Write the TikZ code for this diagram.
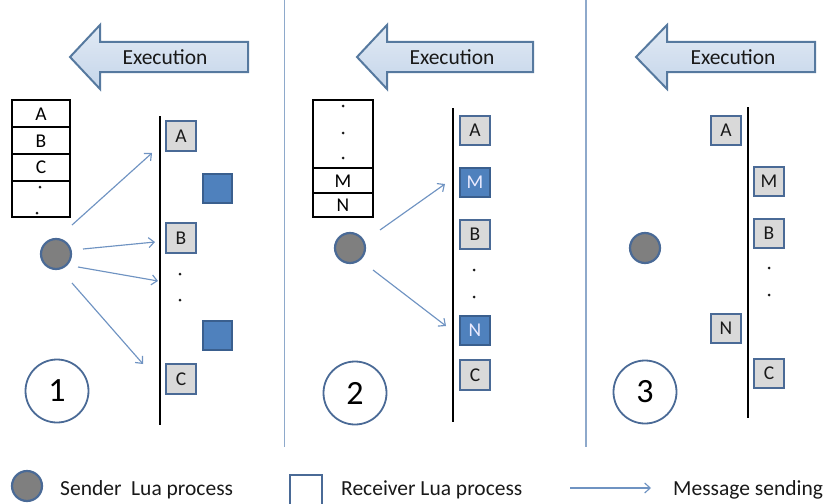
\documentclass[tikz,border=0pt]{standalone}
\usepackage{fontspec}
\setmainfont{Carlito}
\usetikzlibrary{arrows.meta}

\definecolor{procedge}{HTML}{4A6A96}
\definecolor{procfill}{HTML}{D9D9D9}
\definecolor{busyfill}{HTML}{4F81BD}
\definecolor{busyedge}{HTML}{3A5F8E}
\definecolor{sendfill}{HTML}{7F7F7F}
\definecolor{msgcol}{HTML}{6F93C2}
\definecolor{sepcol}{HTML}{8EA9CB}
\definecolor{exedge}{HTML}{56799F}
\definecolor{extop}{HTML}{E2EAF4}
\definecolor{exbot}{HTML}{C4D5EA}

\tikzset{
  proc/.style={draw=procedge, line width=2.3pt, fill=procfill, minimum size=29.5pt,
    inner sep=0pt, font=\fontsize{19.5}{19.5}\selectfont, text=black!90},
  busy/.style={proc, fill=busyfill, draw=busyedge, text=white!92!blue},
  sender/.style={circle, draw=procedge, line width=2.2pt, fill=sendfill,
    minimum size=30pt, inner sep=0pt},
  stepnum/.style={circle, draw=procedge, line width=1.8pt, fill=white,
    minimum size=63pt, inner sep=0pt, font=\fontsize{34}{34}\selectfont},
  msg/.style={draw=msgcol, line width=1.15pt, -{Straight Barb[length=5.5pt,width=10pt,line width=1.15pt]}},
  timeline/.style={draw=black, line width=1.5pt},
  sepline/.style={draw=sepcol, line width=1.2pt},
  execarrow/.style={draw=exedge, line width=2pt, top color=extop,
    bottom color=exbot, line join=miter},
  exectext/.style={font=\fontsize{21.5}{21.5}\selectfont, text=black!90, inner sep=0pt},
  stackframe/.style={draw=black, line width=2.9pt},
  stackrule/.style={draw=black, line width=1.3pt},
  stackletter/.style={font=\fontsize{19.5}{19.5}\selectfont, inner sep=0pt},
  dotmark/.style={fill=black!90, circle, inner sep=0pt, minimum size=3pt},
  lbl/.style={font=\fontsize{21.5}{21.5}\selectfont, anchor=base west, inner sep=0pt, text=black!90},
}

\begin{document}
\begin{tikzpicture}[x=1pt,y=-1pt]
  \useasboundingbox (0,0) rectangle (832,503);

  % panel separators
  \draw[sepline] (284.5,0) -- (284.5,447);
  \draw[sepline] (586,0) -- (586,447);

  % "Execution" arrows
  \foreach \tip/\base/\tail in {70/100/248, 357/387/533, 636/667/815}{
    \draw[execarrow] (\tip,57) -- (\base,25) -- (\base,42) -- (\tail,42)
      -- (\tail,72) -- (\base,72) -- (\base,89) -- cycle;
  }
  \node[exectext] (ex1) at (165,57) {Execution};
  \node[exectext] (ex2) at (452,57) {Execution};
  \node[exectext] (ex3) at (733,57) {Execution};

  % ---------- step 1 ----------
  \draw[stackframe] (12,100) rectangle (70,217);
  \draw[stackrule] (12,127) -- (70,127);
  \draw[stackrule] (12,154) -- (70,154);
  \draw[stackrule] (12,181) -- (70,181);
  \node[stackletter] (qa) at (41,114) {A};
  \node[stackletter] (qb) at (41,141) {B};
  \node[stackletter] (qc) at (41,167.5) {C};
  \node[dotmark] (qd1) at (40,187) {};
  \node[dotmark] (qd2) at (37,213) {};

  \node[sender] (snd1) at (56,254) {};
  \draw[timeline] (160,116) -- (160,425);
  \node[proc] (a1) at (181,136) {A};
  \node[busy] (w1) at (217.5,188.5) {};
  \node[proc] (b1) at (181,238) {B};
  \node[dotmark] (d1a) at (180,274) {};
  \node[dotmark] (d1b) at (180,300) {};
  \node[busy] (w2) at (217.5,335.5) {};
  \node[proc] (c1) at (181,379) {C};
  \node[stepnum] (n1) at (57,391) {1};

  \coordinate (s1a) at (72,225);  \coordinate (t1a) at (152,153);
  \coordinate (s1b) at (83,249);  \coordinate (t1b) at (155,242);
  \coordinate (s1c) at (78,267);  \coordinate (t1c) at (158,281);
  \coordinate (s1d) at (72,283);  \coordinate (t1d) at (143,364);
  \draw[msg] (s1a) -- (t1a);
  \draw[msg] (s1b) -- (t1b);
  \draw[msg] (s1c) -- (t1c);
  \draw[msg] (s1d) -- (t1d);

  % ---------- step 2 ----------
  \draw[stackframe] (313,100) rectangle (373,217);
  \draw[stackrule] (313,168) -- (373,168);
  \draw[stackrule] (313,193) -- (373,193);
  \node[dotmark] (pd1) at (343,106) {};
  \node[dotmark] (pd2) at (343,133) {};
  \node[dotmark] (pd3) at (343,158) {};
  \node[stackletter] (pm) at (343,181) {M};
  \node[stackletter] (pn) at (343,205.5) {N};

  \node[sender] (snd2) at (350,248) {};
  \draw[timeline] (453,108) -- (453,422);
  \node[proc] (a2) at (475,130.5) {A};
  \node[busy] (m2) at (475,182.5) {M};
  \node[proc] (b2) at (475,234.5) {B};
  \node[dotmark] (d2a) at (474,270) {};
  \node[dotmark] (d2b) at (474,297) {};
  \node[busy] (nn2) at (475,330.5) {N};
  \node[proc] (c2) at (475,375) {C};
  \node[stepnum] (n2) at (355,393) {2};

  \coordinate (s2a) at (380,230);  \coordinate (t2a) at (445,184);
  \coordinate (s2b) at (373,270);  \coordinate (t2b) at (446,326);
  \draw[msg] (s2a) -- (t2a);
  \draw[msg] (s2b) -- (t2b);

  % ---------- step 3 ----------
  \node[sender] (snd3) at (645,248) {};
  \draw[timeline] (748,107) -- (748,418);
  \node[proc] (a3) at (726,130.5) {A};
  \node[proc] (m3) at (769,181.5) {M};
  \node[proc] (b3) at (769,233.5) {B};
  \node[dotmark] (d3a) at (769,268) {};
  \node[dotmark] (d3b) at (769,295) {};
  \node[proc] (nn3) at (726,328.5) {N};
  \node[proc] (c3) at (769,373.5) {C};
  \node[stepnum] (n3) at (645,392) {3};

  % ---------- legend ----------
  \node[sender] (lsnd) at (27,486) {};
  \node[lbl] (lsndtxt) at (60,495) {Sender\hspace{0.45em}Lua process};
  \draw[draw=procedge, line width=2.2pt] (290,475) rectangle (322,512);
  \node[lbl] (lrcvtxt) at (341,495) {Receiver Lua process};
  \coordinate (lma) at (570,488);
  \coordinate (lmb) at (651,488);
  \draw[msg] (lma) -- (lmb);
  \node[lbl] (lmsgtxt) at (673,495) {Message sending};
\end{tikzpicture}
\end{document}
